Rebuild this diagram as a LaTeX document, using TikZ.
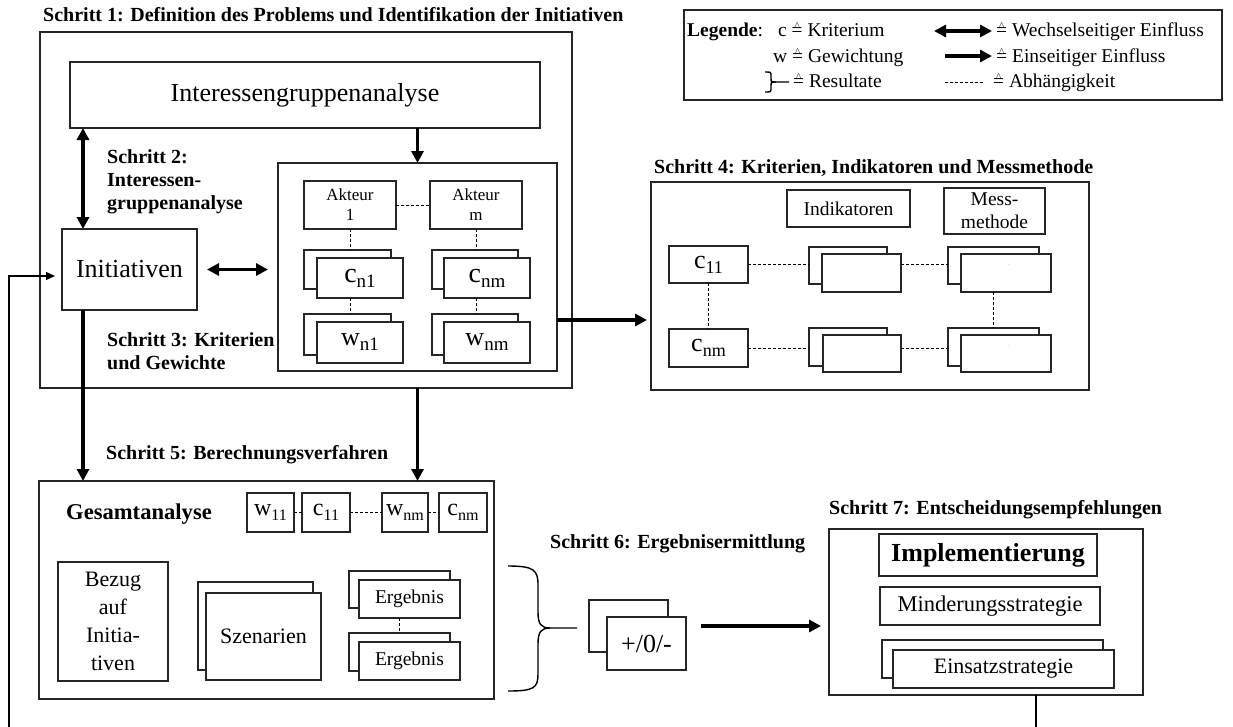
\documentclass[tikz,border=0pt]{standalone}
\usepackage{fontspec}
\setmainfont{Liberation Serif}
\usetikzlibrary{arrows.meta}

\newcommand\hateq{\mbox{\ooalign{=\cr\hfil\raisebox{0.40em}{\fontsize{10}{10}\selectfont$\wedge$}\hfil\cr}}}
\newcommand\csub[4]{{\fontsize{#1}{#1}\selectfont #3}\raisebox{-5pt}{\fontsize{#2}{#2}\selectfont #4}}
\newcommand\bx[7][]{%
  \pgfmathsetmacro\bxw{#5-#3}\pgfmathsetmacro\bxh{#6-#4}%
  \pgfmathsetmacro\bxcx{(#3+#5)/2}\pgfmathsetmacro\bxcy{(#4+#6)/2}%
  \node[bxs,minimum width=\bxw pt,minimum height=\bxh pt,#1] (#2) at (\bxcx,\bxcy) {#7};}

\tikzset{
  bxs/.style={draw=black!85, line width=1.2pt, inner sep=0pt, outer sep=0pt, fill=white, align=center},
  lbl/.style={font=\fontsize{20}{24}\selectfont\bfseries, inner sep=0pt, anchor=base west},
  lgd/.style={font=\fontsize{19.5}{22}\selectfont, inner sep=0pt, anchor=base west},
  big/.style={font=\fontsize{26}{30}\selectfont},
  mid/.style={font=\fontsize{22}{28}\selectfont},
  sml/.style={font=\fontsize{19.5}{23}\selectfont},
  arr/.style={line width=3.5pt, -{Triangle[length=12pt,width=12pt]}},
  darr/.style={line width=3.5pt, {Triangle[length=12pt,width=12pt]}-{Triangle[length=12pt,width=12pt]}},
  dep/.style={line width=1pt, dash pattern=on 3pt off 2pt},
  fb/.style={line width=1.3pt, -{Triangle[length=9pt,width=8pt]}},
  brc/.style={line width=1.4pt},
}

\begin{document}
\begin{tikzpicture}[x=1pt,y=-1pt]
\useasboundingbox (0,0) rectangle (1233,726);

% ---------------- Legend
\bx{lg}{684}{10}{1222}{100}{}
\node[lgd] (lg1) at (687,36) {\textbf{Legende}:};
\node[lgd] (lg2) at (778,36) {c \hateq{} Kriterium};
\node[lgd] (lg3) at (773,62) {w \hateq{} Gewichtung};
\node[lgd] (lg4) at (793,87) {\hateq{} Resultate};
\draw[brc] (765,72) .. controls (771,72) .. (771,76) -- (771,78) .. controls (771,82) .. (776,82) -- (789,82);
\draw[brc] (776,82) .. controls (771,82) .. (771,86) -- (771,88) .. controls (771,92) .. (765,92);
\draw[darr] (934,31) -- (992,31);
\draw[arr] (945,56) -- (992,56);
\draw[dep] (945,82) -- (984,82);
\node[lgd] (lg5) at (996,36) {\hateq{} Wechselseitiger Einfluss};
\node[lgd] (lg6) at (996,62) {\hateq{} Einseitiger Einfluss};
\node[lgd] (lg7) at (993,87) {\hateq{} Abhängigkeit};

% ---------------- Step 1-3
\node[lbl] (t1) at (43,21) {Schritt 1: Definition des Problems und Identifikation der Initiativen};
\bx{s1}{40}{32}{572}{388}{}
\bx[big]{iga}{70}{62}{540}{128}{Interessengruppenanalyse}
\bx{inner}{278}{163}{557}{371}{}
\bx[big]{ini}{62}{229}{197}{310}{Initiativen}
\node[lbl] (t2a) at (107,163) {Schritt 2:};
\node[lbl] (t2b) at (107,186) {Interessen-};
\node[lbl] (t2c) at (107,209) {gruppenanalyse};
\node[lbl] (t3a) at (107,346) {Schritt 3: Kriterien};
\node[lbl] (t3b) at (107,369) {und Gewichte};

\bx[font=\fontsize{17}{20}\selectfont]{a1}{304}{181}{396}{229}{Akteur\\1}
\bx[font=\fontsize{17}{20}\selectfont]{am}{430}{181}{522}{229}{Akteur\\m}
\bx{cb1}{304}{250}{391}{289}{}
\bx{cf1}{317}{258}{403}{298}{\csub{28}{19}{c}{n1}}
\bx{cbm}{432}{250}{518}{289}{}
\bx{cfm}{444}{258}{530}{298}{\csub{28}{19}{c}{nm}}
\bx{wb1}{304}{314}{391}{355}{}
\bx{wf1}{317}{322}{403}{363}{\csub{26}{19}{w}{n1}}
\bx{wbm}{432}{314}{518}{355}{}
\bx{wfm}{444}{322}{530}{363}{\csub{26}{19}{w}{nm}}
\draw[dep] (a1.east) -- (am.west);
\draw[dep] (a1.south) -- (a1.south |- cb1.north);
\draw[dep] (am.south) -- (am.south |- cbm.north);
\draw[dep] (a1.south |- cf1.south) -- (a1.south |- wb1.north);
\draw[dep] (am.south |- cfm.south) -- (am.south |- wbm.north);

\draw[arr] (iga.south -| inner.north) -- (inner.north);
\draw[darr] ([xshift=-46.5pt]ini.north |- iga.south) -- ([xshift=-46.5pt]ini.north);
\draw[darr] ([xshift=10pt]ini.east) -- ([xshift=-10pt]inner.west |- ini.east);

% ---------------- Step 4
\node[lbl] (t4) at (654,173) {Schritt 4: Kriterien, Indikatoren und Messmethode};
\bx{b4}{651}{182}{1089}{390}{}
\bx[sml]{ind}{787}{190}{910}{227}{Indikatoren}
\bx[font=\fontsize{19.5}{23}\selectfont]{mm}{944}{188}{1045}{234}{Mess-\\methode}
\bx{c4a}{669}{246}{748}{283}{\csub{26}{18}{c}{11}}
\bx{c4b}{669}{329}{748}{367}{\csub{26}{18}{c}{nm}}
\bx{ib1}{809}{247}{887}{284}{}
\bx{if1}{822}{254}{901}{292}{}
\bx{ib2}{809}{328}{887}{366}{}
\bx{if2}{823}{335}{901}{372}{}
\bx{mb1}{948}{247}{1039}{284}{}
\bx{mf1}{961}{254}{1051}{292}{}
\bx{mb2}{948}{328}{1039}{366}{}
\bx{mf2}{961}{335}{1051}{372}{}
\node[font=\fontsize{6}{6}\selectfont, text=gray, inner sep=0pt] (dot1) at (1009,265) {.};
\node[font=\fontsize{6}{6}\selectfont, text=gray, inner sep=0pt] (dot2) at (1009,346) {.};
\draw[dep] (c4a.east) -- (c4a.east -| ib1.west);
\draw[dep] (if1.east |- c4a.east) -- (mb1.west |- c4a.east);
\draw[dep] (c4b.east) -- (c4b.east -| ib2.west);
\draw[dep] (if2.east |- c4b.east) -- (mb2.west |- c4b.east);
\draw[dep] (c4a.south) -- (c4b.north);
\draw[dep] (mb1.center |- mf1.south) -- (mb2.north);
\draw[arr, shorten >=4pt] ([yshift=-53pt]inner.east) -- ([yshift=-53pt]inner.east -| b4.west);

% ---------------- Step 5
\node[lbl] (t5) at (106,459) {Schritt 5: Berechnungsverfahren};
\bx{b5}{39}{481}{494}{699}{}
\draw[arr] ([xshift=-46.5pt]ini.south) -- ([xshift=-46.5pt]ini.south |- b5.north);
\draw[arr] (inner.south |- s1.south) -- (inner.south |- b5.north);
\node[lbl, font=\fontsize{22.6}{26}\selectfont\bfseries] (ga) at (66,519) {Gesamtanalyse};
\bx{w5a}{247}{493}{294}{532}{\csub{24}{16}{w}{11}}
\bx{c5a}{302}{493}{350}{532}{\csub{24}{16}{c}{11}}
\bx{w5b}{382}{493}{428}{532}{\csub{24}{16}{w}{nm}}
\bx{c5b}{439}{493}{487}{532}{\csub{24}{16}{c}{nm}}
\draw[dep] (w5a.east) -- (c5a.west);
\draw[dep] (c5a.east) -- (w5b.west);
\draw[dep] (w5b.east) -- (c5b.west);
\bx[font=\fontsize{22}{28}\selectfont]{bez}{58}{562}{168}{681}{Bezug\\auf\\Initia-\\tiven}
\bx{szb}{198}{582}{313}{670}{}
\bx[mid]{szf}{206}{593}{321}{680}{Szenarien}
\bx{eb1}{349}{571}{450}{608}{}
\bx[sml]{ef1}{359}{580}{460}{618}{Ergebnis}
\bx{eb2}{349}{633}{450}{671}{}
\bx[sml]{ef2}{359}{642}{460}{680}{Ergebnis}
\draw[dep] (eb2.north |- ef1.south) -- (eb2.north);

% brace
\draw[brc] (508,566) .. controls (534,566) and (538,570) .. (538,585) -- (538,612) .. controls (538,624) and (541,628) .. (550,628) -- (577,628);
\draw[brc] (550,628) .. controls (541,628) and (538,632) .. (538,644) -- (538,674) .. controls (538,688) and (534,691) .. (508,691);

% ---------------- Step 6
\node[lbl] (t6) at (550,548) {Schritt 6: Ergebnisermittlung};
\bx{pb}{589}{600}{668}{652}{}
\bx[big]{pf}{607}{617}{686}{670}{+/0/-}

% ---------------- Step 7
\node[lbl] (t7) at (829,514) {Schritt 7: Entscheidungsempfehlungen};
\bx{b7}{829}{529}{1143}{695}{}
\bx[font=\fontsize{26}{30}\selectfont\bfseries]{imp}{879}{534}{1097}{576}{Implementierung}
\bx[font=\fontsize{22.5}{26}\selectfont]{mind}{880}{587}{1100}{625}{Minderungsstrategie}
\bx{eib}{882}{640}{1103}{678}{}
\bx[mid]{eif}{893}{650}{1114}{688}{Einsatzstrategie}
\draw[arr, shorten >=8pt] ([xshift=15pt]pf.east |- pb.center) -- (b7.west |- pb.center);

% feedback loop
\coordinate (fbc) at (9,728);
\draw[fb] ([xshift=50pt]b7.south) |- (fbc) |- ([xshift=-7pt,yshift=-6.5pt]ini.west);
\end{tikzpicture}
\end{document}
